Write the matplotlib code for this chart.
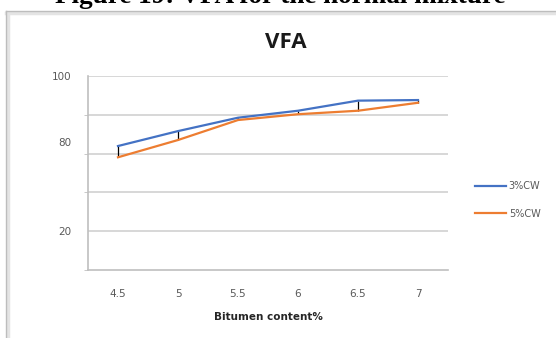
import matplotlib
matplotlib.use("Agg")
import matplotlib.pyplot as plt
from matplotlib.lines import Line2D

# Bitumen content categories and VFA (%) for the two cement-waste levels
bitumen = ["4.5", "5", "5.5", "6", "6.5", "7"]
vfa_3cw = [63.9, 71.6, 78.5, 82.1, 87.3, 87.6]
vfa_5cw = [58.1, 67.0, 77.3, 80.3, 82.1, 86.2]
series_names = ["3%CW", "5%CW"]

# y-axis tick labels as printed on the chart
ytick_vals = [20, 66, 100]
ytick_text = ["20", "80", "100"]
grid_vals = [0, 20, 40, 60, 80, 100]

W, H = 556, 338
fig = plt.figure(figsize=(W / 100, H / 100), dpi=100)
fig.patch.set_facecolor("white")

# caption above the chart
fig.text(280 / W, 1 - 3 / H, "Figure 19: VFA for the normal mixture",
         family="Liberation Serif", weight="bold", fontsize=19.5,
         ha="center", va="baseline", color="black")

# chart frame with a soft shadow
fig.add_artist(Line2D([6 / W, 1.0], [1 - 12.5 / H] * 2, transform=fig.transFigure,
                      color="#e4e4e4", lw=2.5))
fig.add_artist(Line2D([7.5 / W, 7.5 / W], [0, 1 - 12.5 / H], transform=fig.transFigure,
                      color="#e4e4e4", lw=2.5))
fig.add_artist(Line2D([6 / W, 1.0], [1 - 11 / H] * 2, transform=fig.transFigure,
                      color="#bdbdbd", lw=1.0))
fig.add_artist(Line2D([6 / W, 6 / W], [0, 1 - 11 / H], transform=fig.transFigure,
                      color="#bdbdbd", lw=1.0))

ax = fig.add_axes([88 / W, 68 / H, 360 / W, 194 / H])
x = list(range(len(bitumen)))

for g in grid_vals[1:]:
    ax.axhline(g, color="#d4d4d4", lw=1.3, zorder=1)

ax.vlines(x, vfa_5cw, vfa_3cw, color="black", lw=0.9, zorder=3)
ax.plot(x, vfa_3cw, color="#4472C4", lw=1.6, label=series_names[0], zorder=4)
ax.plot(x, vfa_5cw, color="#ED7D31", lw=1.6, label=series_names[1], zorder=4)

ax.set_xlim(-0.5, len(bitumen) - 0.5)
ax.set_ylim(0, 100)
ax.set_xticks(x)
ax.set_xticklabels(bitumen)
ax.set_yticks(ytick_vals)
ax.set_yticklabels(ytick_text)
ax.set_yticks(grid_vals, minor=True)
ax.tick_params(axis="y", which="major", length=0, pad=12, labelsize=7.5, labelcolor="#595959")
ax.tick_params(axis="y", which="minor", length=3, color="#bfbfbf")
ax.tick_params(axis="x", length=0, pad=14, labelsize=7.5, labelcolor="#595959")

for s in ["top", "right"]:
    ax.spines[s].set_visible(False)
for s in ["left", "bottom"]:
    ax.spines[s].set_color("#bfbfbf")
    ax.spines[s].set_linewidth(1.2)

ax.set_xlabel("Bitumen content%", fontsize=7.5, weight="bold", color="#262626", labelpad=9)
ax.set_title("VFA", fontsize=16, weight="bold", family="Open Sans", color="#1a1a1a",
             x=(286 - 88) / 360, pad=20)

fig.legend(loc="center left", bbox_to_anchor=(466 / W, 1 - 200 / H), frameon=False,
           fontsize=7, handlelength=3.2, handletextpad=0.3, labelspacing=1.8,
           labelcolor="#595959")

fig.savefig("out.png", dpi=100, facecolor="white")
